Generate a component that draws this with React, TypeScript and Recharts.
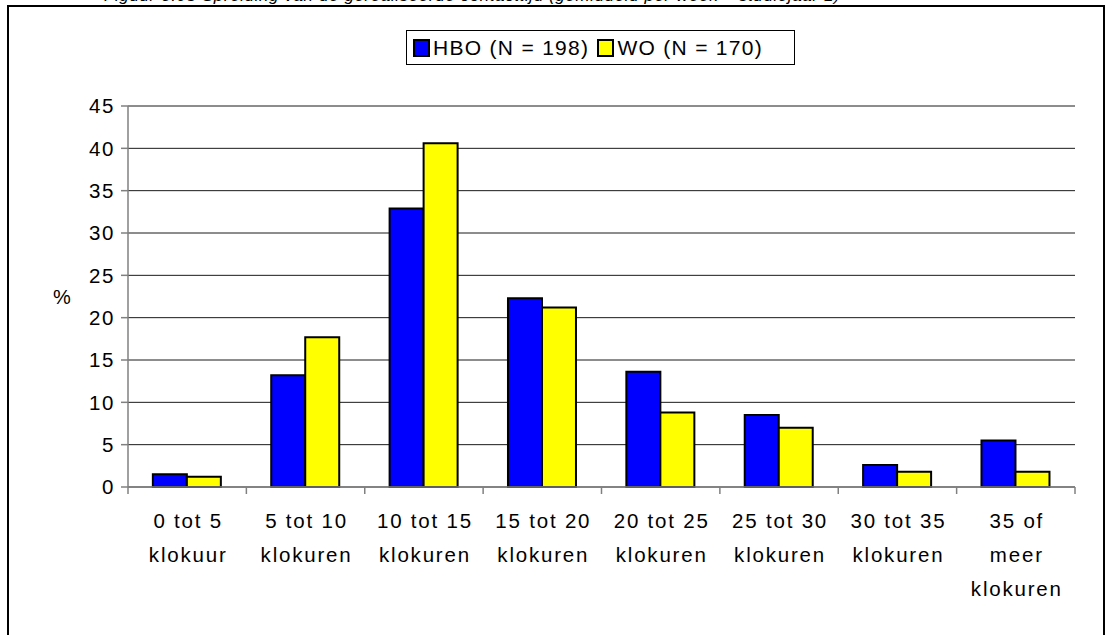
import React from 'react';
import { BarChart, Bar, XAxis, YAxis, CartesianGrid, Legend } from 'recharts';

const categories = [
  '0 tot 5\nklokuur',
  '5 tot 10\nklokuren',
  '10 tot 15\nklokuren',
  '15 tot 20\nklokuren',
  '20 tot 25\nklokuren',
  '25 tot 30\nklokuren',
  '30 tot 35\nklokuren',
  '35 of\nmeer\nklokuren',
];
const hboValues = [1.5, 13.2, 32.9, 22.3, 13.6, 8.5, 2.6, 5.5];
const woValues = [1.2, 17.7, 40.6, 21.2, 8.8, 7.0, 1.8, 1.8];
const yTicks = [0, 5, 10, 15, 20, 25, 30, 35, 40, 45];

const FONT = '"Liberation Sans", Arial, Helvetica, sans-serif';

const data = categories.map((c, i) => ({ cat: c, hbo: hboValues[i], wo: woValues[i] }));

// Excel-achtige categorie-as: streepjes tussen de categorieën, labels eronder
const CategoryTick: React.FC<any> = ({ x, y, payload, index, width, visibleTicksCount }) => {
  const bw = width / visibleTicksCount;
  const lines = String(payload.value).split('\n');
  const isLast = index === visibleTicksCount - 1;
  return (
    <g>
      <line x1={x - bw / 2} y1={y} x2={x - bw / 2} y2={y + 7} stroke="#808080" strokeWidth={1.5} />
      {isLast && <line x1={x + bw / 2} y1={y} x2={x + bw / 2} y2={y + 7} stroke="#808080" strokeWidth={1.5} />}
      {lines.map((l, i) => (
        <text
          key={i}
          x={x + 1}
          y={y + 41 + i * 34}
          textAnchor="middle"
          fontSize={20.5}
          fill="#000"
          style={{ fontFamily: FONT, letterSpacing: '1.8px' }}
        >
          {l}
        </text>
      ))}
    </g>
  );
};

const LegendBox: React.FC<any> = ({ payload }) => (
  <div
    style={{
      border: '1px solid #000',
      height: '100%',
      boxSizing: 'border-box',
      display: 'flex',
      alignItems: 'center',
      paddingLeft: 6,
      fontFamily: FONT,
      fontSize: 21,
      letterSpacing: '1.3px',
      color: '#000',
      whiteSpace: 'nowrap',
    }}
  >
    {(payload || []).map((p: any) => (
      <span key={p.value} style={{ display: 'flex', alignItems: 'center', marginRight: 8 }}>
        <span
          style={{
            display: 'inline-block',
            width: 13,
            height: 14,
            background: p.color,
            border: '2px solid #000',
            marginRight: 3,
          }}
        />
        {p.value}
      </span>
    ))}
  </div>
);

export default function App() {
  return (
    <div
      style={{
        position: 'absolute',
        left: 0,
        top: 0,
        width: 1112,
        height: 635,
        overflow: 'hidden',
        background: '#fff',
        fontFamily: FONT,
      }}
    >
      <div
        style={{
          position: 'absolute',
          left: 104,
          top: -13,
          fontSize: 17,
          lineHeight: '17px',
          fontStyle: 'italic',
          letterSpacing: '0.6px',
          whiteSpace: 'nowrap',
          color: '#000',
        }}
      >
        Figuur 3.05 Spreiding van de gerealiseerde contacttijd (gemiddeld per week – studiejaar 1)
      </div>
      <div
        style={{
          position: 'absolute',
          left: 7,
          top: 5,
          width: 1098,
          height: 700,
          border: '2px solid #000',
          boxSizing: 'border-box',
        }}
      />
      <div style={{ position: 'absolute', left: 0, top: 0 }}>
        <BarChart
          width={1112}
          height={635}
          data={data}
          margin={{ top: 106, right: 37, left: 0, bottom: 0 }}
          barCategoryGap="21%"
          barGap={0}
        >
          <CartesianGrid vertical={false} stroke="#1a1a1a" strokeWidth={1} />
          <XAxis
            dataKey="cat"
            height={148}
            stroke="#808080"
            strokeWidth={1.5}
            tickLine={false}
            tickSize={0}
            tickMargin={0}
            interval={0}
            tick={<CategoryTick />}
          />
          <YAxis
            width={128}
            domain={[0, 45]}
            ticks={yTicks}
            stroke="#808080"
            strokeWidth={1.5}
            tickSize={7}
            tickMargin={6}
            tick={{ fontSize: 20.5, fill: '#000', fontFamily: FONT, letterSpacing: '1.6px' } as any}
            label={{
              content: ({ viewBox }: any) => (
                <text
                  x={viewBox.x + 53}
                  y={viewBox.y + viewBox.height / 2 + 7}
                  fontSize={20}
                  fill="#000"
                  style={{ fontFamily: FONT }}
                >
                  %
                </text>
              ),
            }}
          />
          <Legend
            layout="horizontal"
            verticalAlign="middle"
            align="center"
            content={<LegendBox />}
            wrapperStyle={{ top: 30, left: 406, width: 389, height: 35 }}
          />
          <Bar dataKey="hbo" name="HBO (N = 198)" fill="#0000FF" stroke="#000" strokeWidth={2} isAnimationActive={false} />
          <Bar dataKey="wo" name="WO (N = 170)" fill="#FFFF00" stroke="#000" strokeWidth={2} isAnimationActive={false} />
        </BarChart>
      </div>
    </div>
  );
}
